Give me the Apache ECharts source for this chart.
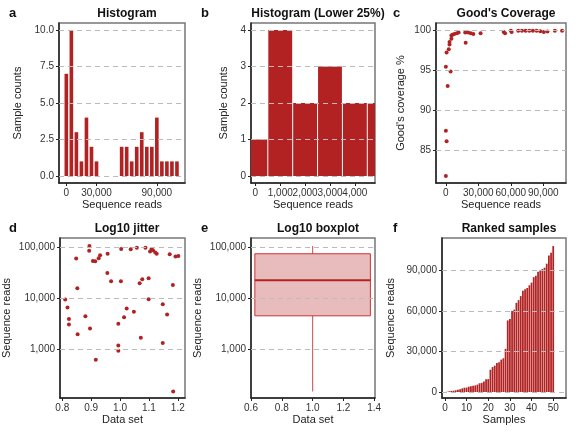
<!DOCTYPE html>
<html><head><meta charset="utf-8">
<script src="https://cdn.jsdelivr.net/npm/echarts@6/dist/echarts.min.js"></script>
<style>html,body{margin:0;padding:0;background:#fff}#c{width:576px;height:432px}</style>
</head><body><div id="c"></div>
<script>
// a: histogram of all reads
const histCenters = [0,5000,10000,15000,20000,25000,30000,35000,40000,45000,50000,55000,60000,65000,70000,75000,80000,85000,90000,95000,100000,105000,110000];
const histCounts = [7,10,3,1,4,2,1,0,0,0,0,2,2,1,2,3,2,2,4,1,1,1,1];
// b: lower 25%
const lowCenters = [0,1000,2000,3000,4000,5000];
const lowCounts = [1,4,2,3,2,2];
// c: good's coverage
const covReads = [0,700,0,1700,0,4400,700,2700,3400,3400,5100,6100,7800,10100,11800,5100,17900,18300,20600,23000,25400,32100,53400,54700,60100,60800,66900,70300,73700,77100,80400,83800,87200,90500,93900,100700,107400];
const covPct = [81.75,86.1,87.4,93.0,95.4,94.8,97.2,97.6,98.5,98.2,98.9,99.4,99.5,99.6,99.7,99.3,99.7,98.4,99.7,99.6,99.5,99.6,99.75,99.6,99.9,99.75,99.9,99.9,99.9,99.9,99.9,99.9,99.85,99.75,99.8,99.9,99.9];
// d: jitter
const jitX = [0.810,0.818,0.823,0.823,0.848,0.852,0.853,0.880,0.894,0.893,0.896,0.906,0.914,0.916,0.926,0.931,0.956,0.957,0.969,0.994,0.994,0.994,1.004,1.003,1.014,1.023,1.037,1.048,1.058,1.068,1.072,1.077,1.088,1.099,1.099,1.104,1.109,1.114,1.122,1.127,1.148,1.148,1.163,1.172,1.183,1.184,1.192,1.202];
const jitReads = [9600,6700,4000,3100,61000,16000,2000,4500,108000,87000,2600,55000,54000,630,62000,71000,32000,76000,22000,3200,1200,950,94000,22000,4300,6400,93000,5500,100000,20000,1700,24000,100000,25000,9700,84000,94000,89000,80000,76000,7800,1350,4900,74000,18500,150,67000,69000];
// e: boxplot stats [min, q1, median, q3, max]
const boxStats = [150,4600,23000,76000,108000];
// f: ranked reads
const rankedReads = [150,600,900,1000,1300,1700,2000,2700,3200,3300,4000,4300,4600,4900,5500,6500,6800,7900,9500,9600,16500,18500,19500,21500,22000,24000,25000,32000,53000,54000,60000,61000,66000,68000,71000,75000,76000,77000,79000,81000,85000,86000,89000,90000,91000,92000,95000,101000,103000,108000];

const RED = '#B22222';
const FONT = 'Liberation Sans';
const fmt = v => Math.round(v).toLocaleString('en-US');
const logFmt = v => fmt(Math.pow(10, v));
const chart = echarts.init(document.getElementById('c'));

const grids = [
  {left:59, top:23, width:126, height:160},
  {left:251, top:23, width:124, height:160},
  {left:436, top:23, width:130, height:160},
  {left:60, top:238, width:125, height:160},
  {left:251, top:238, width:124, height:160},
  {left:442, top:238, width:124, height:160}
].map(g => Object.assign(g, {show:true, borderColor:'#777', borderWidth:1.5, containLabel:false}));

function axis(idx, min, max, ticks, formatter, name, gap) {
  return {
    type:'value', gridIndex:idx, min:min, max:max,
    name:name, nameLocation:'middle', nameGap:gap,
    nameTextStyle:{fontFamily:FONT, fontSize:11, color:'#222'},
    axisLine:{show:true, onZero:false, lineStyle:{color:'#222', width:1.5}},
    axisTick:{show:true, length:3, customValues:ticks, lineStyle:{color:'#222'}},
    axisLabel:{customValues:ticks, formatter:formatter, fontFamily:FONT, fontSize:10, color:'#333',
      margin:5, hideOverlap:false, showMinLabel:true, showMaxLabel:true},
    splitLine:{show:false}
  };
}
// dashed horizontal grid lines, drawn under the marks
const gridSeries = (idx, vals) => ({type:'line', xAxisIndex:idx, yAxisIndex:idx, data:[], z:1,
  markLine:{silent:true, symbol:'none', label:{show:false}, animation:false,
    lineStyle:{color:'#bbb', type:[5,4], width:1}, data:vals.map(v => ({yAxis:v}))}});

function barRender(width, gap) {
  return function (params, api) {
    const x = api.value(0), y = api.value(1);
    if (!y) return null;
    const p0 = api.coord([x - width/2, 0]);
    const p1 = api.coord([x + width/2, y]);
    const rect = echarts.graphic.clipRectByRect(
      {x:p0[0] + gap/2, y:p1[1], width:p1[0]-p0[0]-gap, height:p0[1]-p1[1]}, params.coordSys);
    return rect && {type:'rect', shape:rect, style:{fill:RED}};
  };
}

const lg = v => Math.log10(v);

const option = {
  animation:false,
  grid:grids,
  title:[
    ['Histogram',122],['Histogram (Lower 25%)',313],["Good's Coverage",501],
    ['Log10 jitter',122],['Log10 boxplot',313],['Ranked samples',504]
  ].map((t,i) => ({text:t[0], left:t[1], top:i<3?3:218, textAlign:'center',
    textStyle:{fontFamily:FONT, fontSize:12, fontWeight:'bold', color:'#111'}}))
  .concat(['a','b','c','d','e','f'].map((l,i) => ({text:l, left:[4,196,388][i%3], top:i<3?2:217,
    textStyle:{fontFamily:FONT, fontSize:13, fontWeight:'bold', color:'#111'}}))),
  xAxis:[
    axis(0,-7300,118000,[0,30000,60000,90000],fmt,'Sequence reads',16),
    axis(1,-176,4810,[0,1000,2000,3000,4000],fmt,'Sequence reads',16),
    axis(2,-9100,111000,[0,30000,60000,90000],fmt,'Sequence reads',16),
    axis(3,0.792,1.225,[0.8,0.9,1.0,1.1,1.2],v=>v.toFixed(1),'Data set',16),
    axis(4,0.6,1.405,[0.6,0.8,1.0,1.2,1.4],v=>v.toFixed(1),'Data set',16),
    axis(5,-1.35,55.9,[0,10,20,30,40,50],v=>v,'Samples',16)
  ],
  yAxis:[
    axis(0,-0.48,10.48,[0,2.5,5,7.5,10],v=>v.toFixed(1),'Sample counts',36),
    axis(1,-0.19,4.19,[0,1,2,3,4],v=>v,'Sample counts',22),
    axis(2,80.875,100.875,[85,90,95,100],v=>v,"Good's coverage %",30),
    axis(3,2.05,5.19,[3,4,5],logFmt,'Sequence reads',48),
    axis(4,2.05,5.19,[3,4,5],logFmt,'Sequence reads',48),
    axis(5,-4400,114000,[0,30000,60000,90000],fmt,'Sequence reads',46)
  ],
  series:[
    gridSeries(0,[0,2.5,5,7.5,10]), gridSeries(1,[0,1,2,3,4]), gridSeries(2,[85,90,95,100]),
    gridSeries(3,[3,4,5]), gridSeries(4,[3,4,5]), gridSeries(5,[0,30000,60000,90000]),
    {type:'custom', xAxisIndex:0, yAxisIndex:0, renderItem:barRender(5000,1.4),
      data:histCenters.map((c,i) => [c, histCounts[i]]), z:3},
    {type:'custom', xAxisIndex:1, yAxisIndex:1, renderItem:barRender(1000,1),
      data:lowCenters.map((c,i) => [c, lowCounts[i]]), z:3},
    {type:'scatter', xAxisIndex:2, yAxisIndex:2, symbolSize:4, itemStyle:{color:RED, opacity:1},
      data:covReads.map((r,i) => [r, covPct[i]]), z:3},
    {type:'scatter', xAxisIndex:3, yAxisIndex:3, symbolSize:4, itemStyle:{color:RED, opacity:1},
      data:jitX.map((x,i) => [x, lg(jitReads[i])]), z:3},
    {type:'custom', xAxisIndex:4, yAxisIndex:4, z:3,
      data:[[1].concat(boxStats.map(lg))],
      renderItem:function (params, api) {
        const x = api.value(0);
        const c = k => api.coord([x, api.value(k)]);
        const l = api.coord([x-0.375, api.value(2)]), r = api.coord([x+0.375, api.value(4)]);
        const m = c(3);
        return {type:'group', children:[
          {type:'line', shape:{x1:m[0], y1:c(1)[1], x2:m[0], y2:l[1]}, style:{stroke:'#d06868', lineWidth:1.2}},
          {type:'line', shape:{x1:m[0], y1:r[1], x2:m[0], y2:c(5)[1]}, style:{stroke:'#d06868', lineWidth:1.2}},
          {type:'rect', shape:{x:l[0], y:r[1], width:r[0]-l[0], height:l[1]-r[1]},
            style:{fill:'rgba(178,34,34,0.3)', stroke:'#cc3333', lineWidth:1}},
          {type:'line', shape:{x1:l[0], y1:m[1], x2:r[0], y2:m[1]}, style:{stroke:RED, lineWidth:2}}
        ]};
      }},
    {type:'custom', xAxisIndex:5, yAxisIndex:5, renderItem:barRender(1,0.4),
      data:rankedReads.map((v,i) => [i+1, v]), z:3}
  ]
};
chart.setOption(option);
</script></body></html>
